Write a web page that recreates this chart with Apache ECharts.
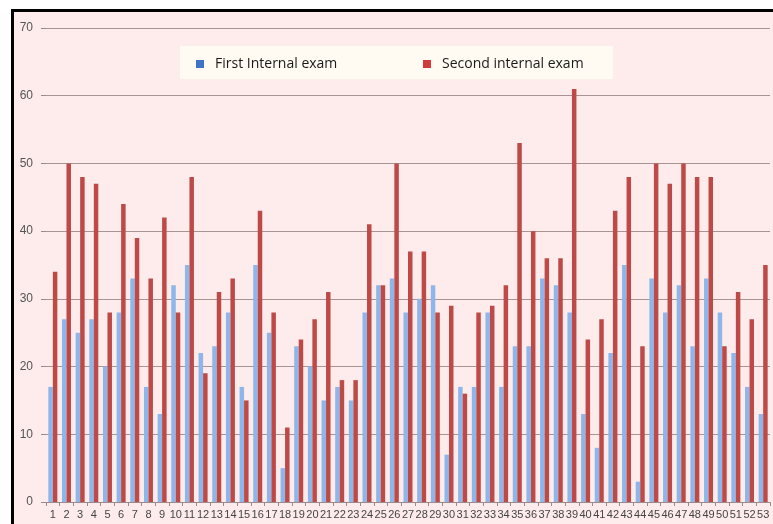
<!DOCTYPE html>
<html>
<head>
<meta charset="utf-8">
<script src="https://cdn.jsdelivr.net/npm/echarts@6/dist/echarts.min.js"></script>
<style>
  html, body { margin: 0; padding: 0; background: #fff; }
  .frame {
    position: absolute; left: 11px; top: 9px; width: 762px; height: 515px;
    border-left: 3px solid #000; border-top: 3px solid #000;
    background: #fdeceb; box-sizing: border-box;
  }
  #chart { position: absolute; left: 0; top: 0; width: 773px; height: 524px; }
</style>
</head>
<body>
<div class="frame"></div>
<div id="chart"></div>
<script>
const students = Array.from({ length: 53 }, (_, i) => String(i + 1))
const firstExam = [17, 27, 25, 27, 20, 28, 33, 17, 13, 32, 35, 22, 23, 28, 17, 35, 25, 5, 23, 20,
  15, 17, 15, 28, 32, 33, 28, 30, 32, 7, 17, 17, 28, 17, 23, 23, 33, 32, 28, 13,
  8, 22, 35, 3, 33, 28, 32, 23, 33, 28, 22, 17, 13]
const secondExam = [34, 50, 48, 47, 28, 44, 39, 33, 42, 28, 48, 19, 31, 33, 15, 43, 28, 11, 24, 27,
  31, 18, 18, 41, 32, 50, 37, 37, 28, 29, 16, 28, 29, 32, 53, 40, 36, 36, 61, 24,
  27, 43, 48, 23, 50, 47, 50, 48, 48, 23, 31, 27, 35]
const yTicks = [0, 10, 20, 30, 40, 50, 60, 70]

const chart = echarts.init(document.getElementById('chart'))

const legendText = { fontFamily: 'Open Sans', fontSize: 14, color: '#1a1a1a', padding: [0, 0, 0, 6] }

chart.setOption({
  backgroundColor: 'transparent',
  animation: false,
  graphic: [
    { type: 'rect', z: 0, shape: { x: 180, y: 46, width: 190, height: 33 }, style: { fill: '#fffaf2' } },
    { type: 'rect', z: 0, shape: { x: 370, y: 46, width: 243, height: 33 }, style: { fill: '#fffaf2' } },
  ],
  legend: [
    {
      left: 191, top: 52, itemWidth: 8, itemHeight: 8, icon: 'rect',
      data: [{ name: 'First Internal exam', itemStyle: { color: '#3f73c6' } }],
      textStyle: legendText,
    },
    {
      left: 418, top: 52, itemWidth: 8, itemHeight: 8, icon: 'rect',
      data: [{ name: 'Second internal exam', itemStyle: { color: '#cf3b3b' } }],
      textStyle: legendText,
    },
  ],
  grid: { left: 46, right: 3, top: 28, bottom: 22, containLabel: false },
  xAxis: {
    type: 'category',
    data: students,
    axisLine: { lineStyle: { color: '#9c8a8a' } },
    axisTick: { show: true, length: 4, lineStyle: { color: '#9c8a8a' } },
    axisLabel: { interval: 0, fontFamily: 'Liberation Sans', fontSize: 11, color: '#444', margin: 7 },
  },
  yAxis: {
    type: 'value',
    min: 0,
    max: 70,
    interval: 10,
    axisLine: { show: false },
    axisTick: { show: true, length: 5, lineStyle: { color: '#9c8a8a' } },
    splitLine: { lineStyle: { color: '#a99494' } },
    axisLabel: {
      fontFamily: 'Liberation Sans', fontSize: 12, color: '#555', margin: 13,
      formatter: (v) => (yTicks.includes(v) ? String(v) : ''),
    },
  },
  series: [
    {
      name: 'First Internal exam',
      type: 'bar',
      data: firstExam,
      barWidth: 4.5,
      barGap: '0%',
      itemStyle: { color: '#8db6ea' },
    },
    {
      name: 'Second internal exam',
      type: 'bar',
      data: secondExam,
      barWidth: 4.5,
      itemStyle: { color: '#bd4a47' },
    },
  ],
})
</script>
</body>
</html>
